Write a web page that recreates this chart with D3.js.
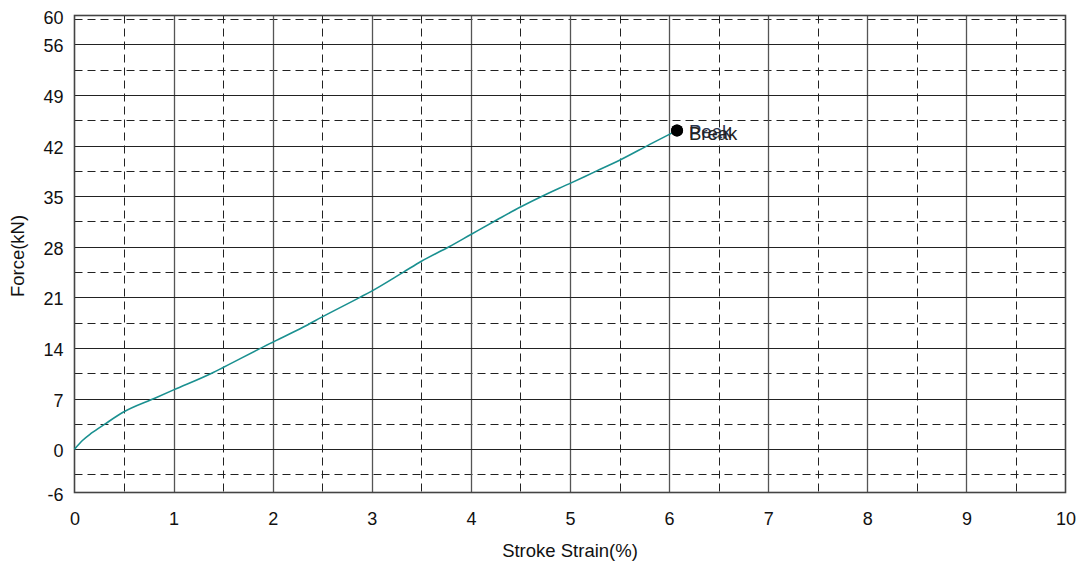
<!DOCTYPE html>
<html>
<head>
<meta charset="utf-8">
<script src="https://cdn.jsdelivr.net/npm/d3@7/dist/d3.min.js"></script>
<style>
  html, body { margin: 0; padding: 0; background: #fff; }
  svg { display: block; font-family: "Liberation Sans", Arial, sans-serif; }
</style>
</head>
<body>
<svg id="chart" width="1087" height="565"></svg>
<script>
// Stroke strain (%) vs force (kN) for the tensile test
const strain = [0, 0.08, 0.17, 0.31, 0.49, 0.81, 1.0, 1.4, 1.5, 1.97, 2.31, 2.5, 2.88, 2.99, 3.32, 3.5, 3.78, 4.0, 4.26, 4.5, 4.75, 4.99, 5.27, 5.49, 5.81, 6.08];
const force  = [0, 1.2, 2.2, 3.5, 5.1, 7.05, 8.2, 10.6, 11.3, 14.6, 16.9, 18.3, 21.0, 21.8, 24.5, 26.0, 28.0, 29.7, 31.7, 33.5, 35.2, 36.7, 38.5, 39.9, 42.2, 44.1];

// Marked points on the curve
const markers = [
  { name: "Peak",  strain: 6.08, force: 44.1 },
  { name: "Break", strain: 6.08, force: 44.1 }
];

// Axis ticks and grid values
const xTicks = [0, 1, 2, 3, 4, 5, 6, 7, 8, 9, 10];
const xHalfTicks = [0.5, 1.5, 2.5, 3.5, 4.5, 5.5, 6.5, 7.5, 8.5, 9.5];
const yTicks = [-6, 0, 7, 14, 21, 28, 35, 42, 49, 56, 60];
const yMajorGrid = [0, 7, 14, 21, 28, 35, 42, 49, 56];
const yMinorGrid = [-3.5, 3.5, 10.5, 17.5, 24.5, 31.5, 38.5, 45.5, 52.5, 59.5];

const svg = d3.select("#chart");
const plotLeft = 74.5, plotRight = 1065.5, plotTop = 15.5, plotBottom = 492.5;

const x = d3.scaleLinear().domain([0, 10]).range([plotLeft, plotRight]);
const y = d3.scaleLinear().domain([-6, 60]).range([plotBottom, plotTop]);

const grid = svg.append("g");

// dashed half-step grid
grid.selectAll("line.vminor").data(xHalfTicks).join("line")
  .attr("x1", d => Math.round(x(d)) + 0.5).attr("x2", d => Math.round(x(d)) + 0.5)
  .attr("y1", plotTop).attr("y2", plotBottom)
  .attr("stroke", "#222").attr("stroke-width", 1).attr("stroke-dasharray", "8,5");
grid.selectAll("line.hminor").data(yMinorGrid).join("line")
  .attr("x1", plotLeft).attr("x2", plotRight)
  .attr("y1", d => Math.round(y(d)) + 0.5).attr("y2", d => Math.round(y(d)) + 0.5)
  .attr("stroke", "#222").attr("stroke-width", 1).attr("stroke-dasharray", "8,5");

// solid grid
grid.selectAll("line.vmajor").data(xTicks.slice(1, -1)).join("line")
  .attr("x1", d => Math.round(x(d)) + 0.5).attr("x2", d => Math.round(x(d)) + 0.5)
  .attr("y1", plotTop).attr("y2", plotBottom)
  .attr("stroke", "#555").attr("stroke-width", 1.3);
grid.selectAll("line.hmajor").data(yMajorGrid).join("line")
  .attr("x1", plotLeft).attr("x2", plotRight)
  .attr("y1", d => Math.round(y(d)) + 0.5).attr("y2", d => Math.round(y(d)) + 0.5)
  .attr("stroke", "#222").attr("stroke-width", 1.2);

// frame
svg.append("rect")
  .attr("x", plotLeft).attr("y", plotTop)
  .attr("width", plotRight - plotLeft).attr("height", plotBottom - plotTop)
  .attr("fill", "none").attr("stroke", "#444").attr("stroke-width", 1.6);

// axes (labels only; the frame draws the axis lines)
const xAxis = d3.axisBottom(x).tickValues(xTicks).tickSize(0).tickPadding(20).tickFormat(d => String(d));
const gx = svg.append("g").attr("transform", `translate(0,${plotBottom})`).call(xAxis);
gx.select(".domain").remove();
gx.selectAll("text").attr("font-size", 18).attr("fill", "#111").attr("font-family", "Liberation Sans, Arial, sans-serif");

const yAxis = d3.axisLeft(y).tickValues(yTicks).tickSize(0).tickPadding(11).tickFormat(d => String(d));
const gy = svg.append("g").attr("transform", `translate(${plotLeft},0)`).call(yAxis);
gy.select(".domain").remove();
gy.selectAll("text").attr("font-size", 18).attr("fill", "#111").attr("dy", "0.42em").attr("font-family", "Liberation Sans, Arial, sans-serif");

// axis titles
svg.append("text")
  .attr("x", 570).attr("y", 557)
  .attr("text-anchor", "middle").attr("font-size", 18.5).attr("fill", "#111")
  .text("Stroke Strain(%)");
svg.append("text")
  .attr("transform", "translate(24,256) rotate(-90)")
  .attr("text-anchor", "middle").attr("font-size", 18.5).attr("fill", "#111")
  .text("Force(kN)");

// force curve
const line = d3.line().x((d, i) => x(strain[i])).y((d, i) => y(force[i])).curve(d3.curveMonotoneX);
svg.append("path")
  .datum(force)
  .attr("d", line)
  .attr("fill", "none").attr("stroke", "#1a9090").attr("stroke-width", 1.6);

// peak / break markers (both fall on the same final point)
svg.selectAll("circle.mark").data(markers).join("circle")
  .attr("cx", d => x(d.strain)).attr("cy", d => y(d.force))
  .attr("r", 6).attr("fill", "#000");
svg.selectAll("text.mark").data(markers).join("text")
  .attr("x", d => x(d.strain) + 12)
  .attr("y", (d, i) => y(d.force) + 8 + i * 2)
  .attr("font-size", 18.5)
  .attr("fill", (d, i) => i === 0 ? "#2a3550" : "#222")
  .text(d => d.name);
</script>
</body>
</html>
